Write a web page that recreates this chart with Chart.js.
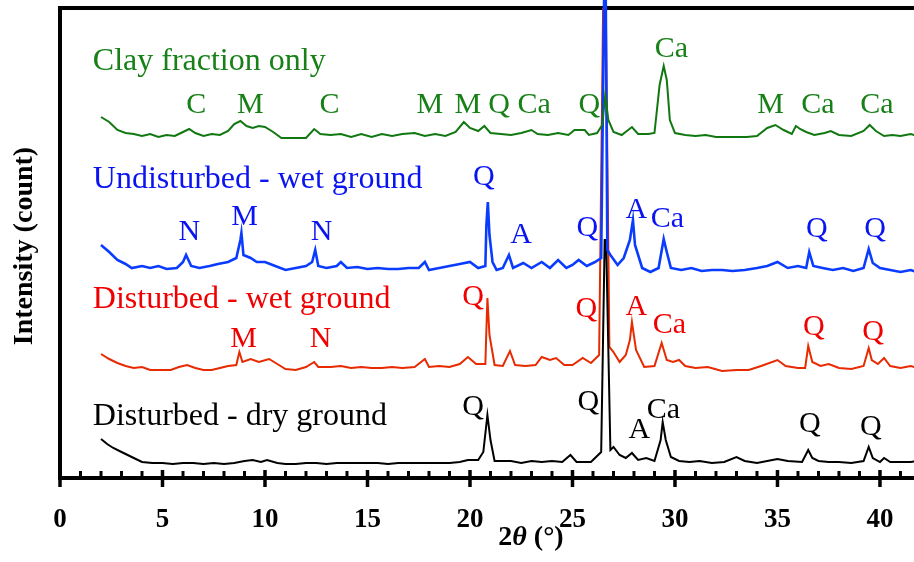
<!DOCTYPE html>
<html>
<head>
<meta charset="utf-8">
<script src="https://cdn.jsdelivr.net/npm/chart.js@4.4.1/dist/chart.umd.min.js"></script>
<style>
  html, body { margin: 0; padding: 0; background: #fff; }
  #wrap { width: 914px; height: 562px; }
</style>
</head>
<body>
<div id="wrap"><canvas id="xrd-chart"></canvas></div>
<script>
// XRD patterns, stacked (2-theta in degrees, intensity in counts incl. offset)
const clayFraction = [
  [2.0,361],[2.4,356],[2.8,348],[3.2,345],[3.6,344],[4.0,342],[4.4,344],[4.8,341],[5.2,343],[5.6,342],
  [6.0,346],[6.3,349],[6.6,345],[7.0,342],[7.4,344],[7.8,343],[8.2,347],[8.5,354],[8.8,357],[9.1,352],
  [9.4,350],[9.7,352],[10.0,351],[10.4,346],[10.8,340],[11.4,340],[12.0,340],[12.4,349],[12.7,344],[13.2,343],
  [13.7,344],[14.2,341],[14.7,344],[15.2,341],[15.7,344],[16.2,342],[16.7,344],[17.3,345],[17.8,342],[18.3,344],
  [18.8,342],[19.3,346],[19.7,356],[20.0,350],[20.4,347],[20.7,352],[21.0,345],[21.5,344],[22.0,343],[22.5,345],
  [23.0,348],[23.3,344],[23.8,343],[24.3,345],[24.8,343],[25.1,348],[25.6,348],[25.8,343],[26.2,345],[26.45,353],
  [26.6,383],[26.75,358],[27.0,346],[27.4,343],[27.9,351],[28.2,344],[28.7,344],[29.0,345],[29.25,393],[29.45,412],
  [29.6,398],[29.75,358],[30.0,345],[30.5,343],[31.0,342],[31.5,343],[32.0,341],[32.6,341],[33.5,341],[34.0,342],
  [34.5,350],[34.9,353],[35.3,348],[35.7,344],[35.9,352],[36.1,349],[36.4,346],[36.8,343],[37.3,345],[37.6,347],
  [38.0,343],[38.6,342],[39.2,347],[39.5,353],[39.8,347],[40.2,342],[40.6,343],[41.0,342],[41.5,344],[41.8,342]
];
const undisturbedWet = [
  [2.0,233],[2.4,226],[2.8,218],[3.2,214],[3.5,210],[4.0,212],[4.4,210],[4.8,212],[5.2,209],[5.7,210],
  [6.0,216],[6.15,223],[6.4,212],[6.8,210],[7.3,212],[7.7,214],[8.2,216],[8.6,220],[8.8,238],[8.85,245],
  [8.95,223],[9.3,220],[9.6,216],[10.0,216],[10.5,212],[11.0,208],[11.5,210],[12.0,212],[12.3,216],[12.45,228],
  [12.6,212],[13.0,210],[13.5,212],[13.7,216],[14.0,210],[14.5,211],[15.0,209],[15.5,210],[16.0,209],[16.5,209],
  [17.0,210],[17.5,210],[17.8,216],[18.0,208],[18.5,210],[19.0,212],[19.5,214],[20.0,216],[20.4,210],[20.75,212],
  [20.8,253],[20.87,276],[20.95,243],[21.1,216],[21.3,208],[21.6,210],[21.9,223],[22.1,210],[22.6,215],[23.0,210],
  [23.5,216],[23.9,210],[24.3,218],[24.7,210],[25.0,213],[25.3,218],[25.7,212],[26.1,216],[26.4,220],[26.55,492],
  [26.62,492],[26.7,228],[26.85,223],[27.2,213],[27.5,220],[27.8,238],[27.95,258],[28.05,233],[28.4,210],[28.8,206],
  [29.2,210],[29.45,239],[29.6,226],[29.8,210],[30.3,208],[30.8,210],[31.3,207],[31.8,208],[32.3,208],[32.8,207],
  [33.4,208],[34.0,210],[34.5,212],[35.0,216],[35.5,210],[36.0,212],[36.4,210],[36.55,226],[36.75,212],[37.2,210],
  [37.7,208],[38.2,210],[38.7,207],[39.2,210],[39.45,229],[39.65,215],[40.0,210],[40.5,208],[41.0,206],[41.5,208],
  [41.8,206]
];
const disturbedWet = [
  [2.0,124],[2.4,119],[2.8,115],[3.2,112],[3.6,110],[4.0,111],[4.4,108],[4.9,108],[5.4,108],[5.8,111],
  [6.2,113],[6.6,110],[7.0,108],[7.4,108],[7.8,110],[8.2,112],[8.6,113],[8.75,126],[8.9,116],[9.3,119],
  [9.7,116],[10.2,119],[10.6,114],[11.0,109],[11.5,108],[12.0,111],[12.4,116],[12.6,111],[13.2,111],[13.7,112],
  [14.2,110],[14.7,111],[15.2,110],[15.7,110],[16.2,111],[16.7,110],[17.3,111],[17.8,119],[18.0,111],[18.5,112],
  [19.0,111],[19.5,114],[19.9,121],[20.3,114],[20.75,114],[20.8,148],[20.85,180],[20.95,143],[21.2,113],[21.6,112],
  [21.95,127],[22.2,113],[22.7,112],[23.2,113],[23.5,121],[23.9,118],[24.2,120],[24.6,113],[25.0,113],[25.5,120],
  [25.9,115],[26.3,123],[26.5,480],[26.62,480],[26.8,131],[27.0,126],[27.3,116],[27.6,123],[27.8,138],[27.9,156],
  [28.1,128],[28.5,111],[29.0,112],[29.35,135],[29.6,118],[29.9,116],[30.2,118],[30.5,112],[31.0,110],[31.6,111],
  [32.3,107],[33.0,108],[33.6,108],[34.2,112],[35.0,118],[35.4,112],[36.0,110],[36.35,110],[36.5,132],[36.7,116],
  [37.1,112],[37.5,114],[38.0,110],[38.6,109],[39.2,112],[39.45,130],[39.6,118],[39.9,114],[40.2,120],[40.5,112],
  [41.0,110],[41.5,112],[41.8,110]
];
const disturbedDry = [
  [2.0,39],[2.3,34],[2.6,30],[3.0,26],[3.3,23],[3.6,20],[4.0,16],[4.5,15],[5.0,15],[5.5,14],
  [6.0,15],[6.5,15],[7.0,14],[7.5,15],[8.0,14],[8.5,15],[9.0,17],[9.4,18],[9.8,16],[10.1,18],
  [10.6,15],[11.0,14],[11.5,14],[12.0,15],[12.5,15],[13.0,14],[13.5,15],[14.0,15],[14.5,15],[15.0,15],
  [15.5,15],[16.0,14],[16.5,15],[17.0,15],[17.5,15],[18.0,15],[18.5,15],[19.0,15],[19.5,16],[19.9,18],
  [20.4,18],[20.65,26],[20.85,63],[21.0,38],[21.2,17],[21.6,17],[22.0,17],[22.5,15],[23.0,17],[23.5,16],
  [24.0,17],[24.5,16],[24.9,23],[25.2,16],[25.9,16],[26.4,26],[26.57,238],[26.64,238],[26.85,28],[27.0,31],
  [27.3,23],[27.6,20],[27.9,25],[28.2,18],[28.6,20],[29.0,17],[29.3,38],[29.4,56],[29.55,38],[29.8,21],
  [30.2,17],[30.7,16],[31.2,17],[31.8,15],[32.4,16],[33.0,21],[33.4,17],[34.0,15],[34.5,17],[35.0,19],
  [35.5,17],[36.2,16],[36.5,28],[36.7,20],[37.0,17],[37.5,16],[38.0,16],[38.6,15],[39.2,17],[39.45,31],
  [39.65,20],[40.0,16],[40.2,20],[40.5,16],[41.0,16],[41.5,16],[41.8,17]
];

// series names and phase labels: [text, 2theta, intensity]
const seriesNames = ['Clay fraction only', 'Undisturbed - wet ground', 'Disturbed - wet ground', 'Disturbed - dry ground'];
const seriesColors = ['#117811', '#0a3cff', '#e82a00', '#000000'];
const textColors = ['#178017', '#0a14f0', '#f00000', '#000000'];
const nameAnchors = [[1.6,408], [1.6,290], [1.6,170], [1.6,53]];
const clayPhases = [['C',6.65,365],['M',9.29,365],['C',13.15,365],['M',18.04,365],['M',19.9,365],['Q',21.42,365],
  ['Ca',23.13,365],['Q',25.82,365],['Ca',29.83,421],['M',34.67,365],['Ca',36.97,365],['Ca',39.85,365]];
const undisturbedPhases = [['N',6.31,238],['M',9.0,253],['N',12.76,238],['Q',20.68,293],['A',22.49,235],['Q',25.72,242],
  ['A',28.12,260],['Ca',29.63,251],['Q',36.92,241],['Q',39.76,241]];
const wetPhases = [['M',8.95,131],['N',12.71,131],['Q',20.15,173],['Q',25.67,161],['A',28.12,163],['Ca',29.73,145],
  ['Q',36.77,143],['Q',39.66,138]];
const dryPhases = [['Q',20.15,63],['Q',25.77,68],['A',28.26,40],['Ca',29.44,60],['Q',36.58,46],['Q',39.56,43]];
const phaseLabels = [clayPhases, undisturbedPhases, wetPhases, dryPhases];

const xTicks = [0, 5, 10, 15, 20, 25, 30, 35, 40];
const serif = '"Liberation Serif", "Times New Roman", serif';

// Frame and axis (drawn under the traces)
const axisPlugin = {
  id: 'axisPlugin',
  beforeDatasetsDraw(chart) {
    const { ctx, chartArea: a, scales: { x } } = chart;
    ctx.save();
    ctx.strokeStyle = '#000';
    ctx.lineWidth = 4;
    ctx.beginPath();
    ctx.moveTo(a.left, a.bottom);
    ctx.lineTo(a.left, a.top - 2);
    ctx.moveTo(a.left - 2, a.top);
    ctx.lineTo(a.right, a.top);
    ctx.moveTo(a.left - 2, a.bottom);
    ctx.lineTo(a.right, a.bottom);
    ctx.stroke();
    // minor + major ticks
    for (let i = 0; i <= Math.floor(x.max); i++) {
      const px = x.getPixelForValue(i);
      ctx.beginPath();
      if (i % 5 === 0) {
        ctx.lineWidth = 3.5;
        ctx.moveTo(px, a.bottom - 8);
        ctx.lineTo(px, a.bottom + 9);
      } else {
        ctx.lineWidth = 3;
        ctx.moveTo(px, a.bottom - 7);
        ctx.lineTo(px, a.bottom);
      }
      ctx.stroke();
    }
    // tick labels
    ctx.fillStyle = '#000';
    ctx.font = 'bold 27px ' + serif;
    ctx.textAlign = 'center';
    ctx.textBaseline = 'alphabetic';
    xTicks.forEach(t => ctx.fillText(String(t), x.getPixelForValue(t), a.bottom + 49));
    // x title: 2θ (°)
    const parts = [['2', 'bold 28px '], ['\u03B8', 'italic bold 28px '], [' (\u00B0)', 'bold 28px ']];
    let total = 0;
    parts.forEach(p => { ctx.font = p[1] + serif; total += ctx.measureText(p[0]).width; });
    let cx = 531 - total / 2;
    ctx.textAlign = 'left';
    parts.forEach(p => {
      ctx.font = p[1] + serif;
      ctx.fillText(p[0], cx, a.bottom + 67);
      cx += ctx.measureText(p[0]).width;
    });
    // y title
    ctx.translate(32, (a.top + a.bottom) / 2 + 3);
    ctx.rotate(-Math.PI / 2);
    ctx.textAlign = 'center';
    ctx.font = 'bold 28px ' + serif;
    ctx.fillText('Intensity (count)', 0, 0);
    ctx.restore();
  }
};

// Series names and phase letters
const labelPlugin = {
  id: 'labelPlugin',
  afterDatasetsDraw(chart) {
    const { ctx, scales: { x, y } } = chart;
    ctx.save();
    ctx.textBaseline = 'alphabetic';
    seriesNames.forEach((name, i) => {
      ctx.fillStyle = textColors[i];
      ctx.font = '32px ' + serif;
      ctx.textAlign = 'left';
      ctx.fillText(name, x.getPixelForValue(nameAnchors[i][0]), y.getPixelForValue(nameAnchors[i][1]));
      ctx.font = '30px ' + serif;
      ctx.textAlign = 'center';
      phaseLabels[i].forEach(p => {
        ctx.fillText(p[0], x.getPixelForValue(p[1]), y.getPixelForValue(p[2]));
      });
    });
    ctx.restore();
  }
};

const allSeries = [clayFraction, undisturbedWet, disturbedWet, disturbedDry];
// index 0 is drawn on top: green, blue, black, red
const drawOrder = [0, 1, 3, 2];

new Chart(document.getElementById('xrd-chart'), {
  type: 'line',
  data: {
    datasets: drawOrder.map(i => ({
      label: seriesNames[i],
      data: allSeries[i].map(p => ({ x: p[0], y: p[1] })),
      borderColor: seriesColors[i],
      borderWidth: i === 1 ? 2.6 : 2,
      pointRadius: 0,
      tension: 0,
      fill: false,
      clip: i === 1 ? false : undefined
    }))
  },
  options: {
    responsive: true,
    maintainAspectRatio: false,
    animation: false,
    events: [],
    layout: { padding: { left: 60, top: 8, right: 0, bottom: 84 } },
    plugins: { legend: { display: false }, tooltip: { enabled: false } },
    scales: {
      x: { type: 'linear', min: 0, max: 41.66, display: false },
      y: { type: 'linear', min: 0, max: 470, display: false }
    }
  },
  plugins: [axisPlugin, labelPlugin]
});
</script>
</body>
</html>
